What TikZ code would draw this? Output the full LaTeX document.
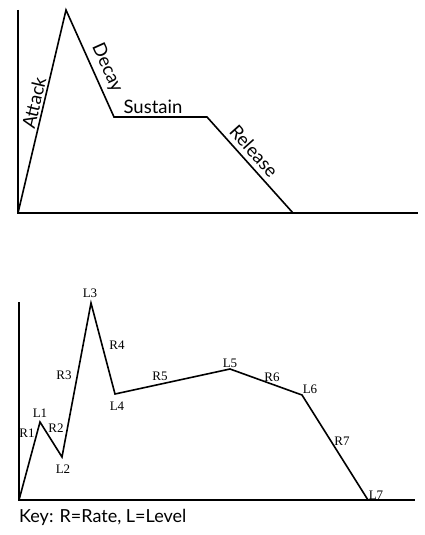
\documentclass[tikz,border=0pt]{standalone}
\usepackage{fontspec}
\setmainfont{Lato}
\newfontfamily\lblfont{Liberation Serif}
\begin{document}
\begin{tikzpicture}[x=1pt,y=-1pt,
  curve/.style={line width=1.6pt, line join=miter},
  axis/.style={line width=1.4pt},
  lab/.style={font=\fontsize{18.5}{20}\selectfont, inner sep=0pt},
  keylab/.style={font=\fontsize{18}{20}\selectfont, inner sep=0pt},
  ptlab/.style={font=\lblfont\fontsize{13}{15}\selectfont, inner sep=0pt}]
\useasboundingbox (0,0) rectangle (424,535);
% top envelope
\coordinate (ay) at (18,10);
\coordinate (o1) at (18,213);
\coordinate (ax) at (418,213);
\coordinate (pk) at (66,10);
\coordinate (dk) at (114,117);
\coordinate (se) at (207,117);
\coordinate (re) at (293,213);
\draw[axis] (ay) -- (o1) -- (ax);
\draw[curve] (o1) -- (pk) -- (dk) -- (se) -- (re);
\node[lab, rotate=76.7] (attack) at (34,103) {Attack};
\node[lab, rotate=-65.8] (decay) at (107,68) {Decay};
\node[lab] (sustain) at (153,107) {Sustain};
\node[lab, rotate=-48.1] (release) at (254,151) {Release};
% bottom envelope
\coordinate (by) at (19,302);
\coordinate (o2) at (19,500);
\coordinate (bx) at (415,500);
\coordinate (p1) at (40,422);
\coordinate (p2) at (62,457);
\coordinate (p3) at (91,303);
\coordinate (p4) at (115,394);
\coordinate (p5) at (230,369);
\coordinate (p6) at (302,395);
\coordinate (p7) at (368,500);
\draw[axis] (by) -- (o2) -- (bx);
\draw[curve] (o2) -- (p1) -- (p2) -- (p3) -- (p4) -- (p5) -- (p6) -- (p7);
\node[ptlab] (r1) at (27,433) {R1};
\node[ptlab] (l1) at (40,413) {L1};
\node[ptlab] (r2) at (56,428) {R2};
\node[ptlab] (l2) at (63,469) {L2};
\node[ptlab] (r3) at (64,375) {R3};
\node[ptlab] (l3) at (90,293) {L3};
\node[ptlab] (r4) at (117,345) {R4};
\node[ptlab] (l4) at (117,406) {L4};
\node[ptlab] (r5) at (160,376) {R5};
\node[ptlab] (l5) at (230,363) {L5};
\node[ptlab] (r6) at (272,377) {R6};
\node[ptlab] (l6) at (310,389) {L6};
\node[ptlab] (r7) at (342,441) {R7};
\node[ptlab] (l7) at (376,495) {L7};
\node[keylab, anchor=west] (key) at (19,517) {Key: R=Rate, L=Level};
\end{tikzpicture}
\end{document}
